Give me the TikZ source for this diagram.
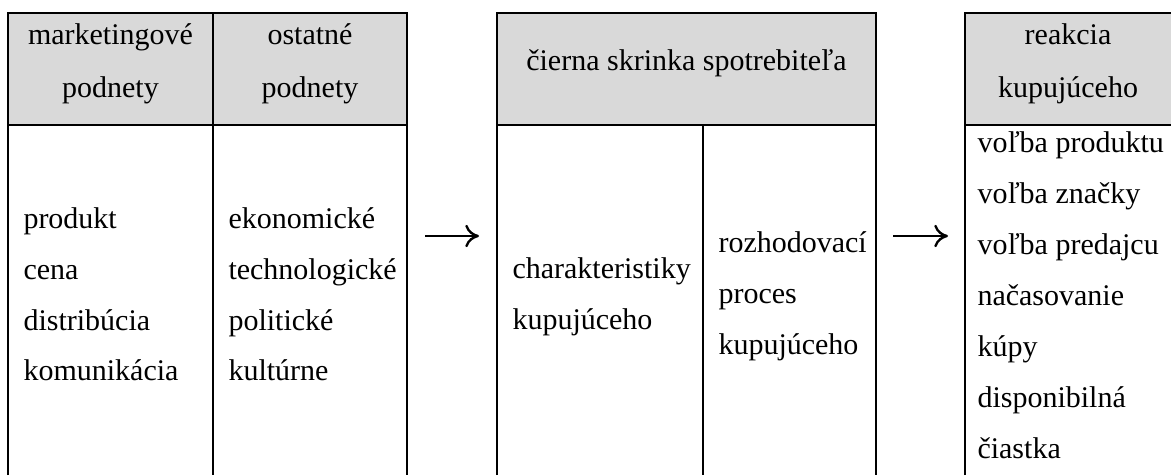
\documentclass[tikz,border=0pt]{standalone}
\usepackage{fontspec}
\setmainfont{Liberation Serif}
\usetikzlibrary{arrows.meta}
\definecolor{hdr}{RGB}{217,217,217}
\begin{document}
\begin{tikzpicture}[x=0.4pt,y=-0.4pt,
  font=\fontsize{12}{14}\selectfont,
  frame/.style={line width=0.9pt, line join=miter},
  headfill/.style={fill=hdr, draw=none},
  txt/.style={anchor=base west, inner sep=0pt},
  ctr/.style={anchor=base, inner sep=0pt},
  conn/.style={line width=0.95pt, -{To[length=5.5pt,width=9pt]}}]
\useasboundingbox (0,0) rectangle (1171,475);

% left box
\fill[headfill] (8,13) rectangle (407,125);
\draw[frame] (8,475) -- (8,13) -- (407,13) -- (407,475);
\draw[frame] (8,125) -- (407,125);
\draw[frame] (213,13) -- (213,475);

% middle box
\fill[headfill] (497,13) rectangle (876,125);
\draw[frame] (497,475) -- (497,13) -- (876,13) -- (876,475);
\draw[frame] (497,125) -- (876,125);
\draw[frame] (703,125) -- (703,475);

% right box
\fill[headfill] (965,13) rectangle (1171,125);
\draw[frame] (965,475) -- (965,13) -- (1171,13);
\draw[frame] (965,125) -- (1171,125);

% headers
\node[ctr] (h1a) at (110.5,44) {marketingové};
\node[ctr] (h1b) at (110.5,97) {podnety};
\node[ctr] (h2a) at (310,44) {ostatné};
\node[ctr] (h2b) at (310,97) {podnety};
\node[ctr] (h3) at (686.5,70) {čierna skrinka spotrebiteľa};
\node[ctr] (h4a) at (1068,44) {reakcia};
\node[ctr] (h4b) at (1068,97) {kupujúceho};

% left body
\node[txt] (l1) at (23,228) {produkt};
\node[txt] (l2) at (23,279) {cena};
\node[txt] (l3) at (23,330) {distribúcia};
\node[txt] (l4) at (23,380) {komunikácia};
\node[txt] (o1) at (228,228) {ekonomické};
\node[txt] (o2) at (228,279) {technologické};
\node[txt] (o3) at (228,330) {politické};
\node[txt] (o4) at (228,380) {kultúrne};

% middle body
\node[txt] (m1) at (512,278) {charakteristiky};
\node[txt] (m2) at (512,329) {kupujúceho};
\node[txt] (r1) at (718,252) {rozhodovací};
\node[txt] (r2) at (718,303) {proces};
\node[txt] (r3) at (718,354) {kupujúceho};

% right body
\node[txt] (k1) at (977,152) {voľba produktu};
\node[txt] (k2) at (977,203) {voľba značky};
\node[txt] (k3) at (977,254) {voľba predajcu};
\node[txt] (k4) at (977,305) {načasovanie};
\node[txt] (k5) at (977,356) {kúpy};
\node[txt] (k6) at (977,407) {disponibilná};
\node[txt] (k7) at (977,458) {čiastka};

% arrows
\coordinate (a1s) at (425,236);
\coordinate (a1e) at (479,236);
\coordinate (a2s) at (893,236);
\coordinate (a2e) at (948,236);
\draw[conn] (a1s) -- (a1e);
\draw[conn] (a2s) -- (a2e);
\end{tikzpicture}
\end{document}
